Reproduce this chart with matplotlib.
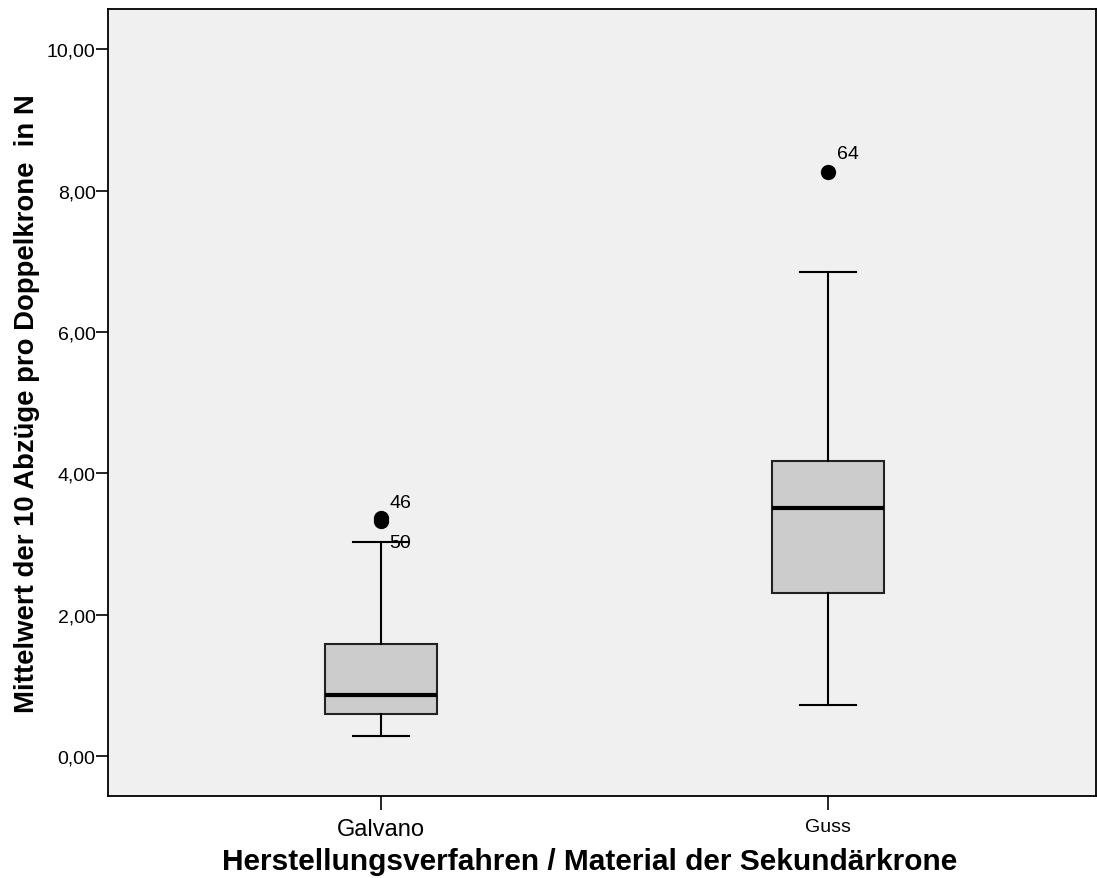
import matplotlib.pyplot as plt

plt.rcParams['font.family'] = ['Liberation Sans', 'DejaVu Sans']

groups = ['Galvano', 'Guss']
whisker_low = [0.28, 0.72]
q1 = [0.59, 2.31]
median = [0.87, 3.51]
q3 = [1.58, 4.17]
whisker_high = [3.03, 6.85]
outliers = [[3.37, 3.32], [8.26]]
outlier_ids = [['46', '50'], ['64']]
yticks = [0, 2, 4, 6, 8, 10]

fig = plt.figure(figsize=(10.97, 8.79), dpi=100)
ax = fig.add_axes([0.0985, 0.0933, 0.9005, 0.8953])
ax.set_facecolor('#f0f0f0')

stats = []
for i in range(len(groups)):
    stats.append({'whislo': whisker_low[i], 'q1': q1[i], 'med': median[i],
                  'q3': q3[i], 'whishi': whisker_high[i], 'fliers': outliers[i]})

ax.bxp(stats, positions=[1, 2], widths=0.25, patch_artist=True, showcaps=True,
       boxprops=dict(facecolor='#cccccc', edgecolor='#222222', linewidth=1.5),
       medianprops=dict(color='black', linewidth=3),
       whiskerprops=dict(color='black', linewidth=1.5),
       capprops=dict(color='black', linewidth=1.5),
       flierprops=dict(marker='o', markerfacecolor='black', markeredgecolor='black',
                       markersize=10, linestyle='none'))

# case numbers next to the outliers
label_dy = [[0.22, -0.3], [0.26]]
for i in range(len(groups)):
    for j, (val, lab) in enumerate(zip(outliers[i], outlier_ids[i])):
        ax.text(i + 1 + 0.02, val + label_dy[i][j], lab, fontsize=14,
                ha='left', va='center')

ax.set_xlim(0.39, 2.6)
ax.set_ylim(-0.566, 10.57)
ax.set_yticks(yticks)
ax.set_yticklabels([('%.2f' % v).replace('.', ',') for v in yticks])
ax.set_xticks([1, 2])
ax.set_xticklabels(groups)
ax.tick_params(axis='y', length=9, width=1.2, labelsize=14, pad=0)
ax.tick_params(axis='x', length=10, width=1.2, labelsize=17, pad=6)
ax.get_xticklabels()[1].set_fontsize(14)

for s in ax.spines.values():
    s.set_linewidth(1.3)
    s.set_color('black')

ax.set_ylabel('Mittelwert der 10 Abzüge pro Doppelkrone  in N', fontsize=19.8,
              fontweight='bold', labelpad=5)
ax.set_xlabel('Herstellungsverfahren / Material der Sekundärkrone', fontsize=21.5,
              fontweight='bold', labelpad=7)
ax.xaxis.set_label_coords(0.487, -0.065)

fig.savefig('out.png', dpi=100)
